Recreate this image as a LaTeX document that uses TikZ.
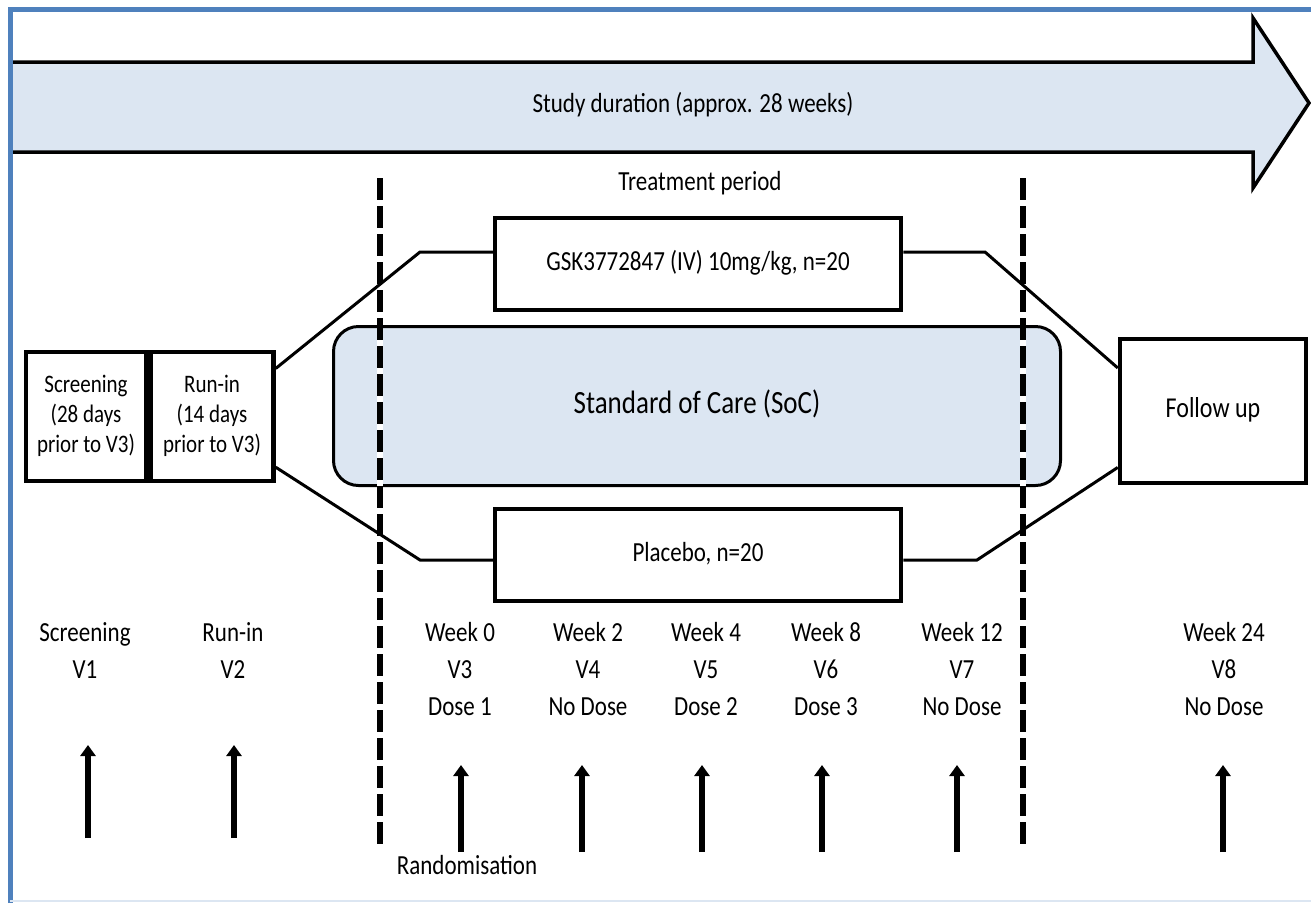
\documentclass[tikz,border=0pt]{standalone}
\usepackage{fontspec}
\setmainfont{Carlito}
\usepackage{graphicx}
\usetikzlibrary{arrows.meta,positioning,calc}

\definecolor{framebl}{HTML}{4F81BD}
\definecolor{paleblue}{HTML}{DCE6F2}

% text in the reference is drawn a little taller than it is wide
\newcommand{\tallc}[1]{\scalebox{1}[1.2]{\begin{tabular}{@{}c@{}}#1\end{tabular}}}
\newcommand{\tallt}[1]{\scalebox{1}[1.2]{\begin{tabular}[t]{@{}c@{}}#1\end{tabular}}}

\begin{document}
\begin{tikzpicture}[x=1pt, y=-1pt,
    box/.style={draw, line width=4.5pt, fill=white, inner sep=0pt},
    link/.style={line width=3pt},
    period/.style={line width=6pt, dash pattern=on 22pt off 6pt},
    visit/.style={line width=6pt, -{Triangle[length=11pt,width=15pt]}},
    txt/.style={font=\fontsize{23}{28}\selectfont}]

    \useasboundingbox (0,0) rectangle (1311,903);

    % study duration arrow
    \draw[line width=3.5pt, fill=paleblue] (10,62) -- (1253,62) -- (1253,18) -- (1309,103)
        -- (1253,188) -- (1253,152) -- (10,152);
    \node[txt] (study) at (693,106) {\tallc{Study duration (approx. 28 weeks)}};

    % frame
    \draw[framebl, line width=5pt] (10,903) -- (10,9) -- (1311,9);
    \draw[paleblue, line width=2pt] (10,901) -- (1311,901);

    \node[txt, font=\fontsize{23}{28}\selectfont] (treat) at (700,184) {\tallc{Treatment period}};

    % arms
    \node[draw, line width=3pt, fill=paleblue, rounded corners=25pt, minimum width=727pt,
        minimum height=159pt, font=\fontsize{27}{32}\selectfont] (soc) at (697,406) {\tallc{Standard of Care (SoC)}};

    % treatment period borders
    \draw[white, line width=6pt] (380,178) -- (380,848);
    \draw[white, line width=6pt] (1023,178) -- (1023,848);
    \draw[period] (380,178) -- (380,848);
    \draw[period] (1023,178) -- (1023,848);

    \node[box, minimum width=406pt, minimum height=92pt, txt] (gsk) at (698,264) {\tallc{GSK3772847 (IV) 10mg/kg, n=20}};
    \node[box, minimum width=406pt, minimum height=92pt, txt] (placebo) at (698,555) {\tallc{Placebo, n=20}};

    \node[box, minimum width=120pt, minimum height=129pt, font=\fontsize{21}{25}\selectfont] (screen) at (86,416.5)
        {\tallc{Screening\\(28 days\\prior to V3)}};
    \node[box, minimum width=123pt, minimum height=129pt, font=\fontsize{21}{25}\selectfont, right=0pt of screen] (runin)
        {\tallc{Run-in\\(14 days\\prior to V3)}};
    \node[box, minimum width=186pt, minimum height=144pt, font=\fontsize{24}{28}\selectfont] (follow) at (1213,411)
        {\tallc{Follow up}};

    % connectors
    \coordinate (gl) at (420,252);
    \coordinate (gr) at (985,252);
    \coordinate (pl) at (420,560);
    \coordinate (pr) at (977,560);
    \draw[link] ($(runin.north east)!0.14!(runin.south east)$) -- (gl) -- (gl -| gsk.west);
    \draw[link] (gr -| gsk.east) -- (gr) -- ($(follow.north west)!0.21!(follow.south west)$);
    \draw[link] ($(runin.north east)!0.88!(runin.south east)$) -- (pl) -- (pl -| placebo.west);
    \draw[link] (pr -| placebo.east) -- (pr) -- ($(follow.north west)!0.88!(follow.south west)$);

    % visits
    \foreach \x/\wk/\v/\dose [count=\i] in {85/Screening/V1/, 233/Run-in/V2/, 460/Week 0/V3/Dose 1,
        588/Week 2/V4/No Dose, 706/Week 4/V5/Dose 2, 826/Week 8/V6/Dose 3,
        962/Week 12/V7/No Dose, 1224/Week 24/V8/No Dose}
        \node[anchor=base, font=\fontsize{23}{31}\selectfont] (t\i) at (\x,641) {\tallt{\wk\\\v\\\dose}};

    \foreach \x/\tp/\bt in {88/745/838, 234/745/838, 461/765/852, 582/765/852,
        702/765/852, 822/765/852, 957/765/852, 1223/765/852}
        \draw[visit] (\x,\bt) -- (\x,\tp);

    \node[txt] (rand) at (467,868) {\tallc{Randomisation}};

\end{tikzpicture}
\end{document}
